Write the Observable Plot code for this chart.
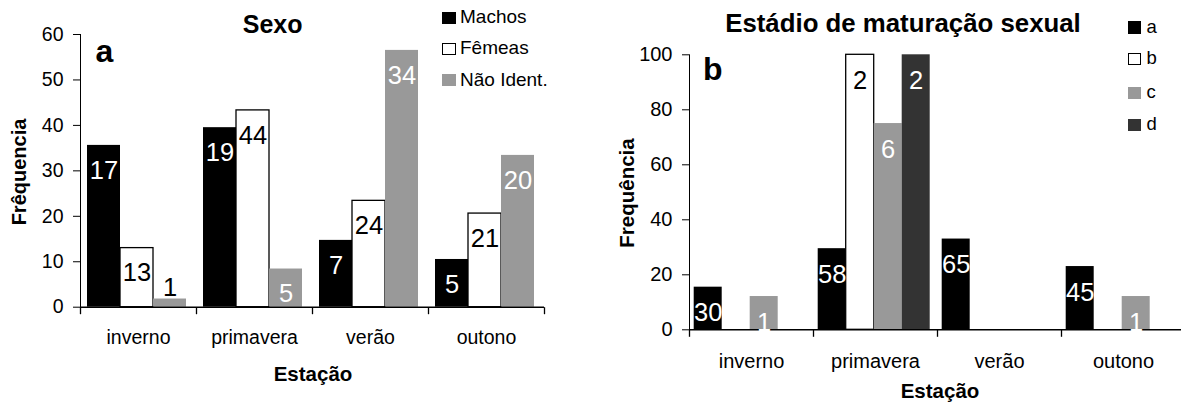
<!DOCTYPE html>
<html>
<head>
<meta charset="utf-8">
<script src="https://cdn.jsdelivr.net/npm/d3@7"></script>
<script src="https://cdn.jsdelivr.net/npm/@observablehq/plot@0.6"></script>
<style>
  html, body { margin: 0; padding: 0; background: #fff; }
  #wrap { position: relative; width: 1181px; height: 410px; overflow: hidden; background: #fff;
          font-family: "Liberation Sans", Arial, Helvetica, sans-serif; color: #000; }
  #wrap svg { position: absolute; top: 0; }
  .t { position: absolute; white-space: nowrap; line-height: 1; }
  .sw { position: absolute; box-sizing: border-box; }
  g[aria-label="y-axis tick"] { stroke: #555; }
  g[aria-label="frame"] { stroke: #555; }
</style>
</head>
<body>
<div id="wrap"></div>
<script>
// ---------- data ----------
const seasons = ["inverno", "primavera", "verão", "outono"];

// Painel a — Sexo (frequência %, e n em cada barra)
const sexSeries = ["Machos", "Fêmeas", "Não Ident."];
const machosFreq   = [35.6, 39.5, 14.7, 10.5];
const femeasFreq   = [13.0, 43.3, 23.4, 20.6];
const naoIdentFreq = [1.8, 8.4, 56.5, 33.4];
const machosN   = [17, 19, 7, 5];
const femeasN   = [13, 44, 24, 21];
const naoIdentN = [1, 5, 34, 20];
const sexTicks = [0, 10, 20, 30, 40, 50, 60];

// Painel b — Estádio de maturação sexual
const stageSeries = ["a", "b", "c", "d"];
const stageAFreq = [15.5, 29.5, 33.0, 23.0];
const stageBFreq = [0, 100, 0, 0];
const stageCFreq = [12.1, 75, 0, 12.1];
const stageDFreq = [0, 100, 0, 0];
const stageAN = [30, 58, 65, 45];
const stageBN = [null, 2, null, null];
const stageCN = [1, 6, null, 1];
const stageDN = [null, 2, null, null];
const stageTicks = [0, 20, 40, 60, 80, 100];

// ---------- helpers ----------
function rowsFor(series, freqs, counts) {
  return series.flatMap((s, j) =>
    seasons.map((season, i) => ({season, series: s, value: freqs[j][i], n: counts[j][i]}))
  ).filter(d => d.value > 0);
}

const tickSymbol = { draw(ctx) { ctx.moveTo(0, 0); ctx.lineTo(0, 7); } };

function makeChart(o) {
  const marks = [];
  o.series.forEach((s, j) => {
    marks.push(Plot.barY(o.rows.filter(d => d.series === s), {
      fx: "season", x: "series", y: "value",
      fill: o.fills[j], stroke: o.strokes[j], strokeWidth: 1.3
    }));
  });
  marks.push(Plot.ruleY([0], {stroke: "#000", strokeWidth: 1.5}));
  o.series.forEach((s, j) => {
    marks.push(Plot.text(o.rows.filter(d => d.series === s && d.n != null && d.value > o.shortMax), {
      fx: "season", x: "series", y: "value", text: "n",
      fill: o.labelFills[j], fontSize: o.labelSize, dy: o.labelDy
    }));
  });
  marks.push(Plot.text(o.rows.filter(d => d.n != null && d.value <= o.shortMax), {
    fx: "season", x: "series", y: () => 0, text: "n",
    fill: "#000", fontSize: o.labelSize, dy: o.shortDy
  }));
  marks.push(Plot.dot(seasons, {fx: d => d, frameAnchor: "bottom-left", symbol: tickSymbol, r: 1,
    fill: "none", stroke: "#000", strokeWidth: 1.3}));
  marks.push(Plot.dot(seasons.slice(-1), {fx: d => d, frameAnchor: "bottom-right", symbol: tickSymbol, r: 1,
    fill: "none", stroke: "#000", strokeWidth: 1.3}));

  return Plot.plot({
    width: o.width, height: o.height,
    marginLeft: o.ml, marginRight: o.mr, marginTop: o.mt, marginBottom: o.mb,
    style: {fontFamily: "'Liberation Sans', Arial, sans-serif", fontSize: o.fontSize + "px",
            background: "transparent", color: "#000", overflow: "visible"},
    fx: {domain: seasons, padding: 0, axis: "bottom", label: null, tickSize: 0, tickPadding: o.fxPad},
    x: {domain: o.series, axis: null, paddingInner: 0, paddingOuter: o.xPad, align: o.xAlign},
    y: {domain: o.yDomain, ticks: o.yTicks, tickSize: 7, tickPadding: 10, line: true, label: null},
    marks
  });
}

const wrap = document.getElementById("wrap");

// ---------- chart a ----------
const rowsA = rowsFor(sexSeries, [machosFreq, femeasFreq, naoIdentFreq], [machosN, femeasN, naoIdentN]);
const svgA = makeChart({
  rows: rowsA, series: sexSeries,
  fills: ["#000", "#fff", "#999"], strokes: [null, "#000", null], labelFills: ["#fff", "#000", "#fff"],
  yDomain: [0, 60], yTicks: sexTicks,
  width: 590, height: 410, ml: 79, mr: 45, mt: 34, mb: 103.3,
  xPad: 0.21, xAlign: 0.42, fontSize: 19.5, fxPad: 23.2,
  labelSize: 25.5, labelDy: 25, shortMax: 5, shortDy: -19
});
svgA.style.left = "0px";
wrap.appendChild(svgA);

// ---------- chart b ----------
const rowsB = rowsFor(stageSeries, [stageAFreq, stageBFreq, stageCFreq, stageDFreq], [stageAN, stageBN, stageCN, stageDN]);
const svgB = makeChart({
  rows: rowsB, series: stageSeries,
  fills: ["#000", "#fff", "#999", "#333"], strokes: [null, "#000", null, null],
  labelFills: ["#fff", "#000", "#fff", "#fff"],
  yDomain: [0, 100], yTicks: stageTicks,
  width: 595, height: 410, ml: 98.3, mr: 0, mt: 54.3, mb: 80.7,
  xPad: 0.14, xAlign: 0.35, fontSize: 20, fxPad: 23.9,
  labelSize: 25.5, labelDy: 26, shortMax: 0, shortDy: -19
});
svgB.style.left = "590px";
wrap.appendChild(svgB);

// ---------- text overlays ----------
function addText(txt, {x, y, size, bold = false, anchor = "start", rotate = false}) {
  const el = document.createElement("div");
  el.className = "t";
  el.textContent = txt;
  el.style.fontSize = size + "px";
  el.style.fontWeight = bold ? "bold" : "normal";
  if (rotate) {
    el.style.left = x + "px";
    el.style.top = y + "px";
    el.style.transform = "translate(-50%, -50%) rotate(-90deg)";
  } else {
    el.style.left = x + "px";
    el.style.top = (y - 0.847 * size) + "px";
    if (anchor === "middle") el.style.transform = "translateX(-50%)";
  }
  wrap.appendChild(el);
}
function addSwatch(x, y, w, h, fill, border) {
  const el = document.createElement("div");
  el.className = "sw";
  el.style.left = x + "px"; el.style.top = y + "px";
  el.style.width = w + "px"; el.style.height = h + "px";
  el.style.background = fill;
  if (border) el.style.border = "1.3px solid #000";
  wrap.appendChild(el);
}

// panel a
addText("Sexo", {x: 272.6, y: 33, size: 25, bold: true, anchor: "middle"});
addText("a", {x: 95.5, y: 61.7, size: 32, bold: true});
addText("Frêquencia", {x: 19, y: 172, size: 20, bold: true, rotate: true});
addText("Estação", {x: 313, y: 381.7, size: 20.5, bold: true, anchor: "middle"});
const legAFills = ["#000", "#fff", "#999"];
const legAY = [23.3, 54.3, 86];
sexSeries.forEach((s, j) => {
  addSwatch(442, legAY[j] - 11.8, 14, 12, legAFills[j], j === 1);
  addText(s, {x: 460, y: legAY[j], size: 19});
});

// panel b
addText("Estádio de maturação sexual", {x: 903, y: 33, size: 25.8, bold: true, anchor: "middle"});
addText("b", {x: 703, y: 80, size: 32, bold: true});
addText("Frequência", {x: 627, y: 193, size: 20.5, bold: true, rotate: true});
addText("Estação", {x: 940, y: 398, size: 20.5, bold: true, anchor: "middle"});
const legBFills = ["#000", "#fff", "#999", "#333"];
const legBY = [33.3, 65, 98.5, 130.5];
stageSeries.forEach((s, j) => {
  addSwatch(1128.3, legBY[j] - 12, 12.6, 12.4, legBFills[j], j === 1);
  addText(s, {x: 1146.5, y: legBY[j], size: 18.5});
});
</script>
</body>
</html>
